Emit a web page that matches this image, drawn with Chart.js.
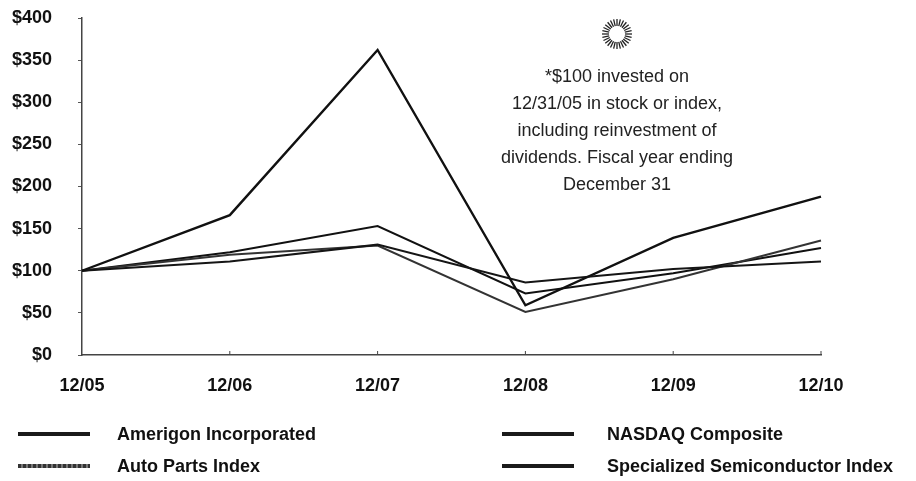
<!DOCTYPE html>
<html>
<head>
<meta charset="utf-8">
<script src="https://cdn.jsdelivr.net/npm/chart.js@4.4.1/dist/chart.umd.min.js"></script>
<style>
  html, body { margin: 0; padding: 0; background: #fff; }
  #wrap { position: relative; width: 916px; height: 481px; font-family: "Liberation Sans", Arial, sans-serif; }
  #wrap canvas { position: absolute; left: 0; top: 0; }
  .lg-text { position: absolute; font-weight: bold; font-size: 18px; line-height: 20px; color: #111; white-space: nowrap; }
  .lg-swatch { position: absolute; width: 72px; height: 4px; background: #1a1a1a; }
</style>
</head>
<body>
<div id="wrap">
  <canvas id="chart" width="916" height="481"></canvas>
  <div id="legend"></div>
</div>
<script>
// values ($100 invested at 12/05)
const years = ['12/05', '12/06', '12/07', '12/08', '12/09', '12/10'];
const amerigon = [100, 166, 362, 59, 139, 188];
const nasdaq = [100, 111, 131, 86, 102, 111];
const autoParts = [100, 119, 130, 51, 90, 136];
const semiconductor = [100, 122, 153, 73, 97, 127];

const seriesNames = ['Amerigon Incorporated', 'NASDAQ Composite', 'Auto Parts Index', 'Specialized Semiconductor Index'];
const noteLines = [
  '*$100 invested on',
  '12/31/05 in stock or index,',
  'including reinvestment of',
  'dividends. Fiscal year ending',
  'December 31'
];

const FONT = '"Liberation Sans", Arial, sans-serif';

// sun logo + footnote text in the upper right
const notePlugin = {
  id: 'note',
  afterDraw(chart) {
    const ctx = chart.ctx;
    ctx.save();
    const cx = 617, cy = 34;
    ctx.strokeStyle = '#222';
    ctx.lineWidth = 1.3;
    for (let i = 0; i < 28; i++) {
      const a = i * Math.PI * 2 / 28;
      ctx.beginPath();
      ctx.moveTo(cx + Math.cos(a) * 8, cy + Math.sin(a) * 8);
      ctx.lineTo(cx + Math.cos(a) * 15, cy + Math.sin(a) * 15);
      ctx.stroke();
    }
    ctx.fillStyle = '#222';
    ctx.font = '18px ' + FONT;
    ctx.textAlign = 'center';
    ctx.textBaseline = 'middle';
    noteLines.forEach((t, i) => ctx.fillText(t, 617, 77 + i * 27));

    // little upward ticks on the x axis
    const xs = chart.scales.x;
    ctx.strokeStyle = '#444';
    ctx.lineWidth = 1;
    for (let i = 1; i < years.length; i++) {
      const x = xs.getPixelForTick(i);
      ctx.beginPath();
      ctx.moveTo(x, chart.chartArea.bottom);
      ctx.lineTo(x, chart.chartArea.bottom - 4);
      ctx.stroke();
    }
    ctx.restore();
  }
};

function ds(label, data, color, width) {
  return {
    label: label,
    data: data,
    borderColor: color,
    borderWidth: width,
    pointRadius: 0,
    tension: 0,
    fill: false
  };
}

new Chart(document.getElementById('chart'), {
  type: 'line',
  data: {
    labels: years,
    datasets: [
      ds(seriesNames[0], amerigon, '#111', 2.4),
      ds(seriesNames[1], nasdaq, '#151515', 2),
      ds(seriesNames[2], autoParts, '#333', 2),
      ds(seriesNames[3], semiconductor, '#111', 2)
    ]
  },
  options: {
    responsive: false,
    animation: false,
    layout: { padding: { top: 0, right: 95, bottom: 0, left: 0 } },
    plugins: { legend: { display: false }, tooltip: { enabled: false } },
    scales: {
      x: {
        offset: false,
        grid: { drawOnChartArea: false, drawTicks: false },
        border: { display: true, color: '#444', width: 1.5 },
        ticks: { padding: 20, color: '#111', font: { family: FONT, size: 18, weight: 'bold' }, maxRotation: 0 },
        afterFit(scale) { scale.height = 481 - 355; }
      },
      y: {
        min: 0,
        max: 400,
        ticks: {
          stepSize: 50,
          padding: 26,
          color: '#111',
          font: { family: FONT, size: 18, weight: 'bold' },
          callback: v => '$' + v
        },
        grid: { drawOnChartArea: false, drawTicks: true, tickLength: 4, color: '#555' },
        border: { display: true, color: '#444', width: 1.5 },
        afterFit(scale) {
          scale.width = 82;
          scale.paddingTop = 18;
          scale.paddingBottom = 0;
        }
      }
    }
  },
  plugins: [notePlugin]
});

// legend in two columns under the plot
const legendSpots = [
  { sx: 18, tx: 117, y: 434, bg: '#1a1a1a' },
  { sx: 502, tx: 607, y: 434, bg: '#1a1a1a' },
  { sx: 18, tx: 117, y: 466, bg: 'repeating-linear-gradient(90deg,#333 0 3px,#777 3px 5px)' },
  { sx: 502, tx: 607, y: 466, bg: '#1a1a1a' }
];
const legend = document.getElementById('legend');
seriesNames.forEach((name, i) => {
  const p = legendSpots[i];
  const sw = document.createElement('div');
  sw.className = 'lg-swatch';
  sw.style.left = p.sx + 'px';
  sw.style.top = (p.y - 2) + 'px';
  sw.style.background = p.bg;
  legend.appendChild(sw);
  const tx = document.createElement('div');
  tx.className = 'lg-text';
  tx.style.left = p.tx + 'px';
  tx.style.top = (p.y - 10) + 'px';
  tx.textContent = name;
  legend.appendChild(tx);
});
</script>
</body>
</html>
